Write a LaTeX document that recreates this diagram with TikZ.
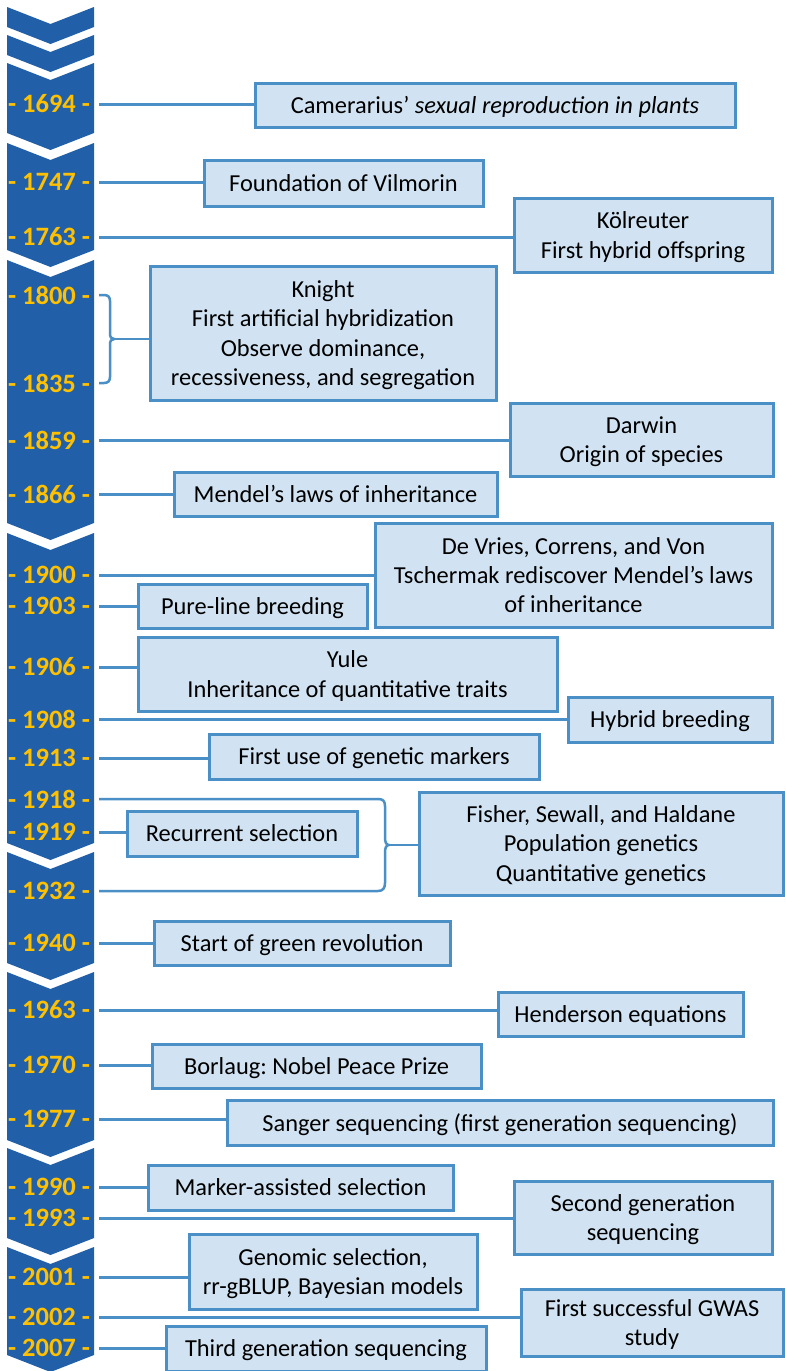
\documentclass[tikz,border=0pt]{standalone}
\usepackage{fontspec}
\setmainfont{Carlito}
\frenchspacing
\definecolor{chevblue}{HTML}{2160A8}
\definecolor{yeargold}{HTML}{FFC000}
\definecolor{edgeblue}{HTML}{4A8FC5}
\definecolor{boxfill}{HTML}{D1E3F2}
\tikzset{
  chev/.style={fill=chevblue},
  year/.style={text=yeargold, font=\fontsize{26.5}{30}\selectfont\bfseries, inner sep=0pt},
  event/.style={draw=edgeblue, fill=boxfill, line width=3pt, inner sep=0pt, text depth=0pt,
    align=center, font=\fontsize{24.4}{29.2}\selectfont},
  link/.style={draw=edgeblue, line width=3pt},
}
\begin{document}
\begin{tikzpicture}[x=1pt,y=-1pt]
\fill[white] (0,0) rectangle (785,1371);
\useasboundingbox (0,0) rectangle (785,1371);

% chevron segments of the time axis
\foreach \t/\b in {7/27, 35/55, 63/133, 143/250, 260/523, 533/843, 852/963, 972/1140, 1148/1238, 1247/1355}
  \fill[chev] (7,\t) -- (50.5,{\t+17}) -- (94,\t) -- (94,\b) -- (50.5,{\b+17}) -- (7,\b) -- cycle;

% year labels and the anchor points of their connectors
\foreach \yr/\yy in {1694/104, 1747/182, 1763/237, 1800/295, 1835/383, 1859/440, 1866/494,
    1900/575, 1903/606, 1906/667, 1908/719, 1913/758, 1918/799, 1919/832, 1932/891,
    1940/943, 1963/1010, 1970/1065, 1977/1119, 1990/1187, 1993/1218, 2001/1277,
    2002/1317, 2007/1348} {
  \node[year] (t\yr) at (49,\yy) {- \yr\ -};
  \coordinate (p\yr) at (99,\yy);
}

% event boxes
\node[event, minimum width=480, minimum height=44] (cam) at (495,105)
  {Camerarius’ \textit{sexual reproduction in plants}};
\node[event, minimum width=279, minimum height=46] (vil) at (343.5,183) {Foundation of Vilmorin};
\node[event, minimum width=258, minimum height=74] (kol) at (643,235) {Kölreuter\\First hybrid offspring};
\node[event, minimum width=346, minimum height=134] (knight) at (323,333)
  {Knight\\First artificial hybridization\\Observe dominance,\\recessiveness, and segregation};
\node[event, minimum width=263, minimum height=73] (darwin) at (641.5,439.5) {Darwin\\Origin of species};
\node[event, minimum width=323, minimum height=44] (mendel) at (335.5,494) {Mendel’s laws of inheritance};
\node[event, minimum width=397, minimum height=104] (devries) at (573.5,575)
  {De Vries, Correns, and Von\\Tschermak rediscover Mendel’s laws\\of inheritance};
\node[event, minimum width=229, minimum height=44] (pure) at (252.5,606) {Pure-line breeding};
\node[event, minimum width=419, minimum height=74] (yule) at (347.5,674) {Yule\\Inheritance of quantitative traits};
\node[event, minimum width=204, minimum height=45] (hybrid) at (670,719.5) {Hybrid breeding};
\node[event, minimum width=330, minimum height=45] (markers) at (374,756.5) {First use of genetic markers};
\node[event, minimum width=230, minimum height=45] (recur) at (242,833.5) {Recurrent selection};
\node[event, minimum width=364, minimum height=103] (fisher) at (601,843.5)
  {Fisher, Sewall, and Haldane\\Population genetics\\Quantitative genetics};
\node[event, minimum width=296, minimum height=44] (green) at (302,943) {Start of green revolution};
\node[event, minimum width=245, minimum height=44] (hend) at (620.5,1014) {Henderson equations};
\node[event, minimum width=329, minimum height=44] (borlaug) at (316.5,1066) {Borlaug: Nobel Peace Prize};
\node[event, minimum width=546, minimum height=45] (sanger) at (500,1122.5)
  {Sanger sequencing (first generation sequencing)};
\node[event, minimum width=305, minimum height=45] (mas) at (300.5,1187.5) {Marker-assisted selection};
\node[event, minimum width=258, minimum height=73] (second) at (643,1217.5) {Second generation\\sequencing};
\node[event, minimum width=288, minimum height=75] (genomic) at (333,1271.5)
  {Genomic selection,\\rr-gBLUP, Bayesian models};
\node[event, minimum width=262, minimum height=67] (gwas) at (652,1322.5) {First successful GWAS\\study};
\node[event, minimum width=320, minimum height=45] (third) at (326,1348.5) {Third generation sequencing};

% straight connectors from a year to its event
\foreach \yr/\bx in {1694/cam, 1747/vil, 1763/kol, 1859/darwin, 1866/mendel, 1900/devries,
    1903/pure, 1906/yule, 1908/hybrid, 1913/markers, 1919/recur, 1940/green, 1963/hend,
    1970/borlaug, 1977/sanger, 1990/mas, 1993/second, 2001/genomic, 2002/gwas, 2007/third}
  \draw[link] (p\yr) -- (p\yr -| \bx.west);

% brace joining 1800 and 1835 to Knight
\draw[link, line width=2.5pt] (p1800) -- ++(5,0) .. controls ++(4,0) and ++(0,-4) .. ++(6,6)
  -- ++(0,32) .. controls ++(0,4) and ++(-3,0) .. ++(4,6)
  .. controls ++(-3,0) and ++(0,-4) .. ++(-4,6) -- ++(0,32)
  .. controls ++(0,4) and ++(4,0) .. (p1835 -| 104,0) -- (p1835);
\coordinate (kb) at (114,339);
\draw[link, line width=2.5pt] (kb) -- (kb -| knight.west);

% brace joining 1918 and 1932 to Fisher, Sewall and Haldane
\draw[link, line width=2.5pt] (p1918) -- ++(279,0) .. controls ++(5,0) and ++(0,-5) .. ++(7,7)
  -- ++(0,31) .. controls ++(0,5) and ++(-3,0) .. ++(4,8)
  .. controls ++(-3,0) and ++(0,-5) .. ++(-4,8) -- ++(0,30)
  .. controls ++(0,5) and ++(5,0) .. (p1932 -| 378,0) -- (p1932);
\coordinate (fb) at (389,845);
\draw[link, line width=2.5pt] (fb) -- (fb -| fisher.west);
\end{tikzpicture}
\end{document}
